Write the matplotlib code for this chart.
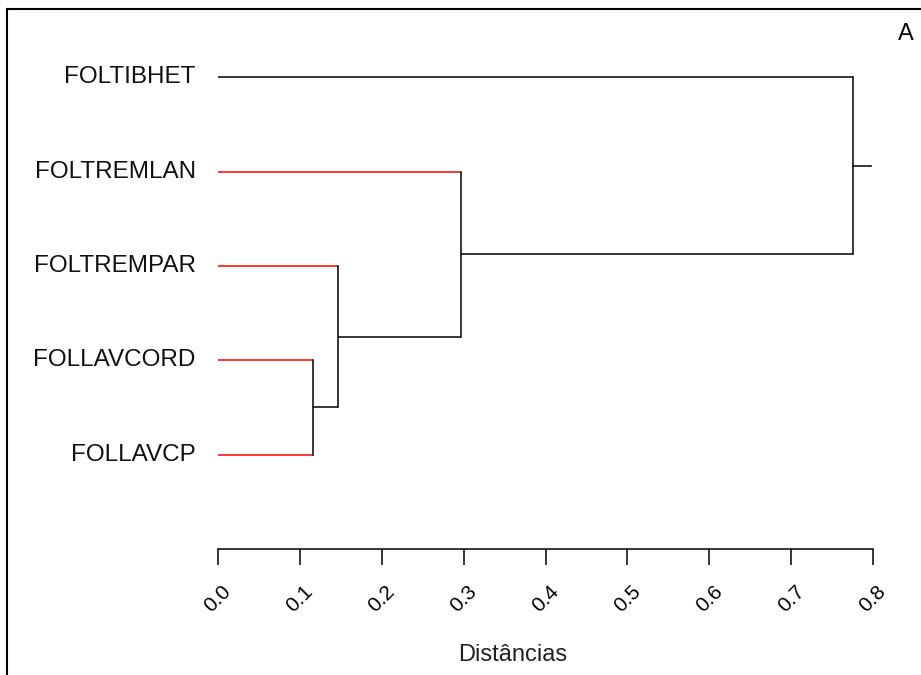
import matplotlib.pyplot as plt
from matplotlib.lines import Line2D

plt.rcParams['font.family'] = ['Liberation Sans', 'DejaVu Sans']

# leaves, top to bottom
labels = ["FOLTIBHET", "FOLTREMLAN", "FOLTREMPAR", "FOLLAVCORD", "FOLLAVCP"]
leaf_colors = ["black", "red", "red", "red", "red"]

# merges: (child a, child b, height); children are leaf indices or "c<n>" clusters
merges = [
    (3, 4, 0.116),
    (2, "c0", 0.147),
    (1, "c1", 0.297),
    (0, "c2", 0.775),
]
root_end = 0.798
ticks = [0.0, 0.1, 0.2, 0.3, 0.4, 0.5, 0.6, 0.7, 0.8]

fig = plt.figure(figsize=(9.21, 6.75), dpi=100)
ax = fig.add_axes([218 / 921, 1 - 549 / 675, 655 / 921, 0.7689])
ax.set_xlim(0, 0.8)
ax.set_ylim(0, 5.5)

n = len(labels)
leaf_y = [n - i for i in range(n)]
pos = {}  # node -> (x, y)
for i in range(n):
    pos[i] = (0.0, leaf_y[i])

lw = 1.1
for k, (a, b, h) in enumerate(merges):
    ys = []
    for c in (a, b):
        x0, y0 = pos[c]
        col = leaf_colors[c] if isinstance(c, int) else "black"
        ax.plot([x0, h], [y0, y0], color=col, lw=lw, solid_capstyle="butt", clip_on=False)
        ys.append(y0)
    ax.plot([h, h], ys, color="black", lw=lw, clip_on=False)
    pos["c%d" % k] = (h, sum(ys) / 2)

# root stub
rx, ry = pos["c%d" % (len(merges) - 1)]
ax.plot([rx, root_end], [ry, ry], color="black", lw=lw, clip_on=False)

for i, lab in enumerate(labels):
    ax.annotate(lab, (0, leaf_y[i]), xytext=(-16, 0), textcoords="offset points",
                ha="right", va="center", fontsize=17.5, color="#111111")

for s in ["top", "right", "left"]:
    ax.spines[s].set_visible(False)
ax.spines["bottom"].set_bounds(0, 0.8)
ax.spines["bottom"].set_linewidth(1.1)
ax.set_yticks([])
ax.set_xticks(ticks)
ax.set_xticklabels(["%.1f" % t for t in ticks], rotation=45, ha="center", fontsize=15)
ax.tick_params(axis="x", direction="out", length=11.5, width=1.1, pad=12)

fig.text(513 / 921, 1 - 661 / 675, "Distâncias", ha="center", va="baseline", fontsize=17, color="#222222")
fig.text(906 / 921, 1 - 34 / 675, "A", ha="center", va="center", fontsize=17)

# frame lines (top and left)
fig.add_artist(Line2D([7 / 921, 1], [1 - 9 / 675, 1 - 9 / 675], color="black", lw=1.5))
fig.add_artist(Line2D([7 / 921, 7 / 921], [0, 1 - 9 / 675], color="black", lw=1.5))

fig.savefig("out.png", dpi=100)
